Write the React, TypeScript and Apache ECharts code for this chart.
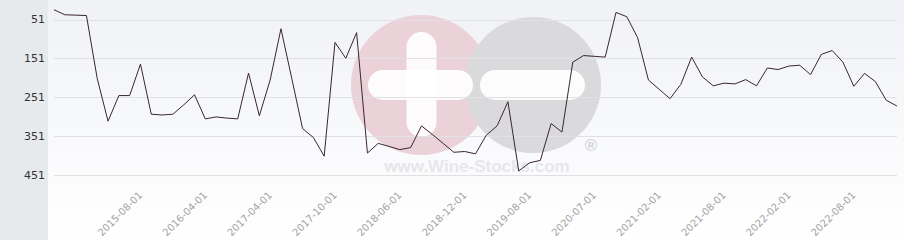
import React, { useEffect, useRef } from "react";
import * as echarts from "echarts";

const categories: string[] = [
  "2014-12-01", "2015-01-01", "2015-02-01", "2015-03-01", "2015-04-01", "2015-05-01", "2015-06-01", "2015-07-01", "2015-08-01",
  "2015-09-01", "2015-10-01", "2015-12-01", "2016-01-01", "2016-03-01", "2016-04-01",
  "2016-06-01", "2016-08-01", "2016-10-01", "2016-12-01", "2017-02-01", "2017-04-01",
  "2017-05-01", "2017-06-01", "2017-07-01", "2017-08-01", "2017-09-01", "2017-10-01",
  "2017-11-01", "2017-12-01", "2018-02-01", "2018-03-01", "2018-05-01", "2018-06-01",
  "2018-07-01", "2018-08-01", "2018-09-01", "2018-10-01", "2018-11-01", "2018-12-01",
  "2019-01-01", "2019-03-01", "2019-04-01", "2019-05-01", "2019-07-01", "2019-08-01",
  "2019-10-01", "2019-12-01", "2020-02-01", "2020-04-01", "2020-06-01", "2020-07-01",
  "2020-08-01", "2020-09-01", "2020-10-01", "2020-12-01", "2021-01-01", "2021-02-01",
  "2021-03-01", "2021-04-01", "2021-05-01", "2021-06-01", "2021-07-01", "2021-08-01",
  "2021-09-01", "2021-10-01", "2021-11-01", "2021-12-01", "2022-01-01", "2022-02-01",
  "2022-03-01", "2022-04-01", "2022-05-01", "2022-06-01", "2022-07-01", "2022-08-01",
  "2022-09-01", "2022-10-01", "2022-11-01", "2022-12-01",
];

const ranks: number[] = [
  25, 38, 39, 40, 202, 312, 246, 246, 165,
  294, 296, 294, 270, 244, 306,
  301, 304, 306, 188, 298, 206,
  74, 202, 331, 354, 402, 109,
  150, 84, 394, 369, 377, 385,
  380, 324, 346, 369, 392, 390,
  396, 348, 324, 262, 440, 419,
  413, 318, 340, 160, 143, 145,
  147, 32, 43, 97, 206, 230,
  254, 217, 147, 198, 221, 214,
  216, 205, 221, 175, 179, 170,
  168, 192, 140, 130, 160, 222,
  189, 210, 258, 273,
];

const yTicks: number[] = [51, 151, 251, 351, 451];
const firstLabelIndex = 8;
const labelStep = 6;

export default function App() {
  const ref = useRef<HTMLDivElement>(null);
  useEffect(() => {
    if (!ref.current) return;
    const chart = echarts.init(ref.current, null, { renderer: "svg" });
    chart.setOption({
      animation: false,
      graphic: [
        {
          type: "rect",
          z: -20,
          silent: true,
          shape: { x: 48, y: 0, width: 856, height: 240 },
          style: {
            fill: new echarts.graphic.LinearGradient(0, 0, 0, 1, [
              { offset: 0, color: "#f0f2f6" },
              { offset: 1, color: "#ffffff" },
            ]),
          },
        },
        {
          type: "rect",
          z: -20,
          silent: true,
          shape: { x: 0, y: 0, width: 48, height: 240 },
          style: { fill: "#e7eaed" },
        },
        {
          type: "circle",
          z: -10,
          silent: true,
          shape: { cx: 421, cy: 85, r: 70 },
          style: { fill: "#ebd2d9" },
        },
        {
          type: "circle",
          z: -9,
          silent: true,
          shape: { cx: 533, cy: 85, r: 68 },
          style: { fill: "#dadadd" },
        },
        {
          type: "rect",
          z: -8,
          silent: true,
          shape: { x: 368, y: 70, width: 105, height: 30, r: 15 },
          style: { fill: "#ffffff", opacity: 0.9 },
        },
        {
          type: "rect",
          z: -8,
          silent: true,
          shape: { x: 406.5, y: 32, width: 30, height: 105, r: 15 },
          style: { fill: "#ffffff", opacity: 0.9 },
        },
        {
          type: "rect",
          z: -8,
          silent: true,
          shape: { x: 480, y: 70, width: 105, height: 30, r: 15 },
          style: { fill: "#ffffff", opacity: 0.9 },
        },
        {
          type: "text",
          z: -7,
          silent: true,
          x: 477,
          y: 166,
          style: {
            text: "www.Wine-Stocks.com",
            fill: "#e7e7ea",
            font: "bold 17px 'Liberation Sans', Arial, sans-serif",
            align: "center",
            verticalAlign: "middle",
          },
        },
        {
          type: "text",
          z: -7,
          silent: true,
          x: 591,
          y: 145,
          style: {
            text: "®",
            fill: "#d6d6da",
            font: "bold 17px 'Liberation Sans', Arial, sans-serif",
            align: "center",
            verticalAlign: "middle",
          },
        },
      ],
      grid: { left: 54, right: 7, top: 0, bottom: 49.6, containLabel: false },
      xAxis: {
        type: "category",
        data: categories,
        boundaryGap: false,
        axisLine: { show: false },
        axisTick: { show: false },
        splitLine: { show: false },
        axisLabel: {
          rotate: 45,
          margin: 6,
          color: "#a3a3a3",
          fontSize: 10,
          fontFamily: "DejaVu Sans",
          interval: (i: number) => i >= firstLabelIndex && (i - firstLabelIndex) % labelStep === 0,
        },
      },
      yAxis: {
        type: "value",
        inverse: true,
        min: 0,
        max: 482,
        axisLine: { show: false },
        axisTick: { show: false, customValues: yTicks },
        axisLabel: {
          customValues: yTicks,
          margin: 9,
          color: "#333333",
          fontSize: 11,
          fontFamily: "DejaVu Sans",
        },
        splitLine: { show: true, lineStyle: { color: "#e1e1e4", width: 1 } },
      },
      series: [
        {
          type: "line",
          data: ranks,
          symbol: "none",
          lineStyle: { color: "#3a2530", width: 1 },
          z: 5,
        },
      ],
    });
    return () => chart.dispose();
  }, []);
  return <div ref={ref} style={{ width: 904, height: 240, position: "absolute", left: 0, top: 0 }} />;
}
